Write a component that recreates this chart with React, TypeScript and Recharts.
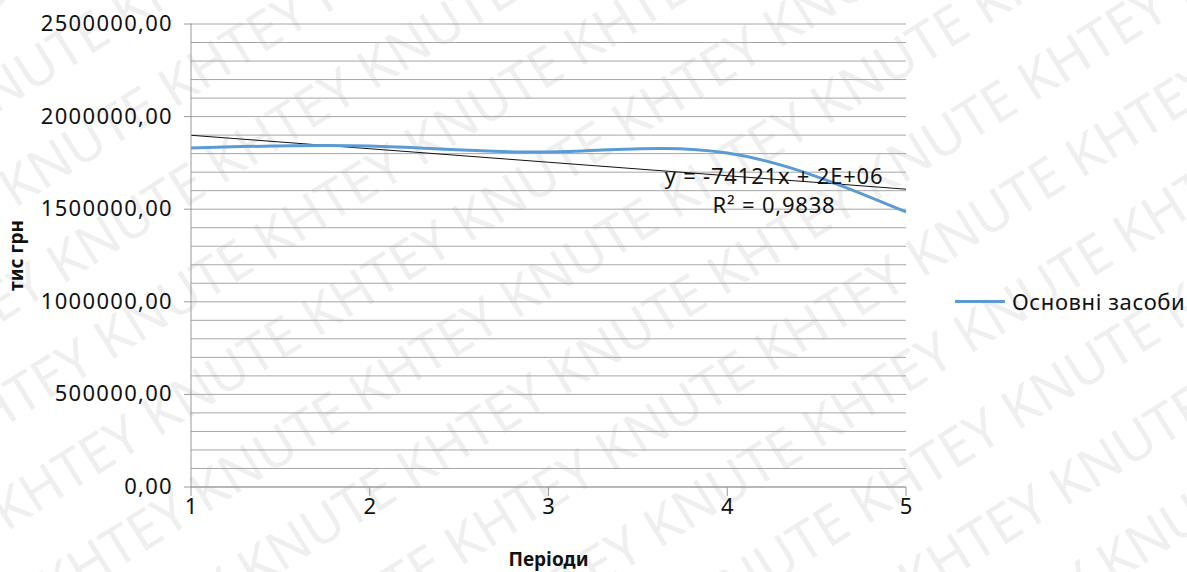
import { LineChart, Line, XAxis, YAxis, CartesianGrid, Label } from 'recharts';

const periods = [1, 2, 3, 4, 5];
const fixedAssets = [1830000, 1841000, 1809000, 1803000, 1485000];
const xTicks = [1, 2, 3, 4, 5];
const yGridTicks = Array.from({ length: 26 }, (_, i) => i * 100000);
const trendText = 'y = -74121x + 2E+06';
const r2Text = 'R² = 0,9838';
const seriesName = 'Основні засоби';
const watermarkWord = 'KHTEY KNUTE ';

// linear trend (least squares) from the series
const n = periods.length;
const mx = periods.reduce((a, b) => a + b, 0) / n;
const my = fixedAssets.reduce((a, b) => a + b, 0) / n;
const slope =
  periods.reduce((s, x, i) => s + (x - mx) * (fixedAssets[i] - my), 0) /
  periods.reduce((s, x) => s + (x - mx) * (x - mx), 0);
const intercept = my - slope * mx;

const data = periods.map((p, i) => ({
  period: p,
  value: fixedAssets[i],
  trend: intercept + slope * p,
}));

const font = '"Noto Sans", "Open Sans", sans-serif';

const YTick = (props: any) => {
  const { x, y, payload } = props;
  if (payload.value % 500000 !== 0) return null;
  const label = payload.value.toFixed(2).replace('.', ',');
  return (
    <g>
      <line x1={x + 1} x2={x + 9} y1={y} y2={y} stroke="#9a9a9a" />
      <text x={x - 10} y={y} dy={7} textAnchor="end" fill="#111" fontSize={22} letterSpacing={1.3} fontFamily={font}>
        {label}
      </text>
    </g>
  );
};

function Watermark() {
  const rows = [];
  for (let i = -6; i < 14; i++) {
    rows.push(
      <text key={i} x={-400} y={i * 90} fontSize={54} fill="#efefef" fontFamily={font}>
        {watermarkWord.repeat(10)}
      </text>
    );
  }
  return (
    <svg width={1187} height={572} style={{ position: 'absolute', left: 0, top: 0 }}>
      <g transform="rotate(-32 600 286)">{rows}</g>
    </svg>
  );
}

export default function App() {
  return (
    <div style={{ position: 'absolute', left: 0, top: 0, width: 1187, height: 572, background: '#fff', overflow: 'hidden' }}>
      <Watermark />
      <div style={{ position: 'absolute', left: 0, top: 0 }}>
        <LineChart width={1187} height={572} data={data} margin={{ top: 24, right: 281, bottom: 0, left: 0 }}>
          <CartesianGrid horizontal vertical={false} stroke="#a6a6a6" horizontalValues={yGridTicks} />
          <XAxis
            dataKey="period"
            type="number"
            domain={[1, 5]}
            ticks={xTicks}
            height={85}
            stroke="#9a9a9a"
            tickSize={9}
            tick={{ fill: '#111', fontSize: 22, fontFamily: font }}
          >
            <Label value="Періоди" position="insideBottom" offset={6} style={{ fill: '#111', fontSize: 19, fontWeight: 'bold', fontFamily: font }} />
          </XAxis>
          <YAxis
            type="number"
            domain={[0, 2500000]}
            ticks={yGridTicks}
            interval={0}
            width={191}
            stroke="#9a9a9a"
            tickLine={false}
            tick={<YTick />}
          >
            <Label value="тис грн" angle={-90} position="insideLeft" offset={16} style={{ fill: '#111', fontSize: 19, fontWeight: 'bold', fontFamily: font, textAnchor: 'middle' }} />
          </YAxis>
          <Line type="linear" dataKey="trend" stroke="#111" strokeWidth={1} dot={false} isAnimationActive={false} />
          <Line type="natural" dataKey="value" name={seriesName} stroke="#5b9bd5" strokeWidth={3} dot={false} isAnimationActive={false} />
        </LineChart>
      </div>
      <div style={{ position: 'absolute', left: 662, top: 161, fontFamily: font, fontSize: 22, letterSpacing: 0.8, color: '#111', lineHeight: '29px', textAlign: 'center', width: 224 }}>
        <div>{trendText}</div>
        <div>{r2Text}</div>
      </div>
      <div style={{ position: 'absolute', left: 955, top: 286, display: 'flex', alignItems: 'center', fontFamily: font, fontSize: 22, letterSpacing: 0.6, color: '#111' }}>
        <div style={{ width: 50, height: 3, background: '#5b9bd5', marginRight: 7 }} />
        <span>{seriesName}</span>
      </div>
    </div>
  );
}
